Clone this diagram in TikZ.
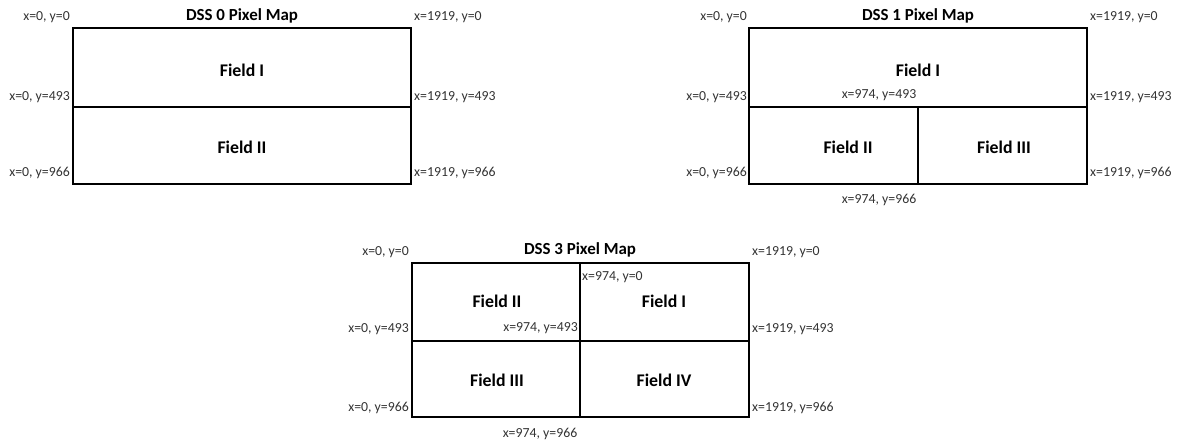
\documentclass[tikz,border=0pt]{standalone}
\usepackage{fontspec}
\setmainfont{Carlito}
\begin{document}
\begin{tikzpicture}[x=1pt,y=-1pt,
  frame/.style={draw=black,line width=1.3pt},
  coord/.style={font=\fontsize{13.8}{15}\selectfont,text=black!80,inner sep=0pt},
  field/.style={font=\bfseries\fontsize{17.8}{20}\selectfont,inner sep=0pt},
  maptitle/.style={font=\bfseries\fontsize{16.9}{19}\selectfont,inner sep=0pt}]
\useasboundingbox (0,0) rectangle (1181,442);
% ---------- DSS 0
\draw[frame] (73,28) rectangle (411,184);
\draw[frame] (73,107) -- (411,107);
\node[maptitle] (t0) at (242,16) {DSS 0 Pixel Map};
\node[field] (f0a) at (242,70) {Field I};
\node[field] (f0b) at (242,147) {Field II};
\node[coord,anchor=east] (a1) at (70,17) {x=0, y=0};
\node[coord,anchor=west] (a2) at (414,17) {x=1919, y=0};
\node[coord,anchor=east] (a3) at (70,97) {x=0, y=493};
\node[coord,anchor=west] (a4) at (414,97) {x=1919, y=493};
\node[coord,anchor=east] (a5) at (70,173) {x=0, y=966};
\node[coord,anchor=west] (a6) at (414,173) {x=1919, y=966};
% ---------- DSS 1
\draw[frame] (749,28) rectangle (1087,184);
\draw[frame] (749,107) -- (1087,107);
\draw[frame] (918,107) -- (918,184);
\node[maptitle] (t1) at (918,16) {DSS 1 Pixel Map};
\node[field] (f1a) at (918,70) {Field I};
\node[field] (f1b) at (848,147) {Field II};
\node[field] (f1c) at (1004,147) {Field III};
\node[coord,anchor=east] (b1) at (747,17) {x=0, y=0};
\node[coord,anchor=west] (b2) at (1090,17) {x=1919, y=0};
\node[coord,anchor=east] (b3) at (747,97) {x=0, y=493};
\node[coord] (b4) at (879,95) {x=974, y=493};
\node[coord,anchor=west] (b5) at (1090,97) {x=1919, y=493};
\node[coord,anchor=east] (b6) at (747,173) {x=0, y=966};
\node[coord,anchor=west] (b7) at (1090,173) {x=1919, y=966};
\node[coord] (b8) at (879,200) {x=974, y=966};
% ---------- DSS 3
\draw[frame] (412,263) rectangle (749,417);
\draw[frame] (412,341) -- (749,341);
\draw[frame] (580,263) -- (580,417);
\node[maptitle] (t3) at (580,250) {DSS 3 Pixel Map};
\node[field] (f3a) at (497,301) {Field II};
\node[field] (f3b) at (664,301) {Field I};
\node[field] (f3c) at (497,380) {Field III};
\node[field] (f3d) at (664,380) {Field IV};
\node[coord,anchor=east] (c1) at (409,252) {x=0, y=0};
\node[coord,anchor=west] (c2) at (752,252) {x=1919, y=0};
\node[coord,anchor=west] (c3) at (582,277) {x=974, y=0};
\node[coord,anchor=east] (c4) at (409,329) {x=0, y=493};
\node[coord,anchor=east] (c5) at (578,328) {x=974, y=493};
\node[coord,anchor=west] (c6) at (752,329) {x=1919, y=493};
\node[coord,anchor=east] (c7) at (409,408) {x=0, y=966};
\node[coord,anchor=west] (c8) at (752,408) {x=1919, y=966};
\node[coord] (c9) at (540,434) {x=974, y=966};
\end{tikzpicture}
\end{document}
